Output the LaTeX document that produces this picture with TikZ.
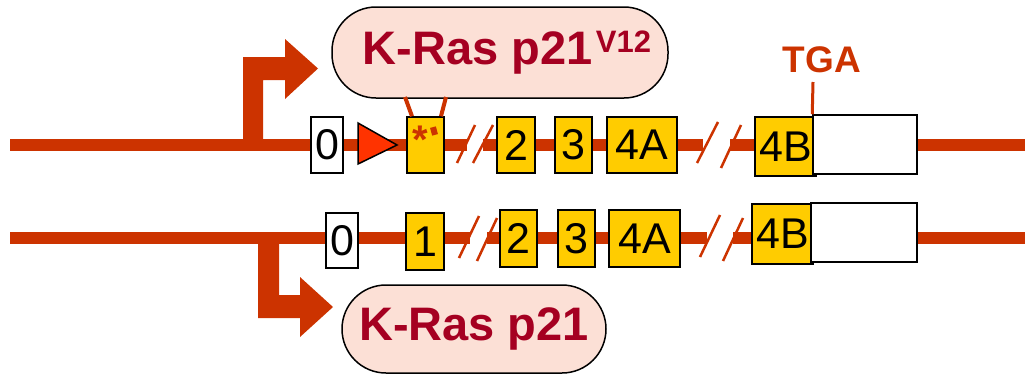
\documentclass[tikz,border=0pt]{standalone}
\usepackage{fontspec}
\setmainfont{Liberation Sans}
\definecolor{dna}{HTML}{CC3300}
\definecolor{exon}{HTML}{FFCC00}
\definecolor{bub}{HTML}{FCE0D6}
\definecolor{ptxt}{HTML}{A50021}
\definecolor{tri}{HTML}{FF3300}
\begin{document}
\begin{tikzpicture}[x=1pt,y=-1pt,
  dnaline/.style={draw=dna,line width=12pt},
  exonbox/.style={draw=black,fill=exon,line width=1.5pt,inner sep=0pt,font=\fontsize{43}{43}\selectfont},
  whitebox/.style={draw=black,fill=white,line width=1.5pt,inner sep=0pt,font=\fontsize{43}{43}\selectfont},
  slash/.style={draw=dna,line width=2.5pt},
  bubble/.style={draw=black,line width=1.5pt,fill=bub,rounded corners=44pt,inner sep=0pt,text=ptxt,font=\bfseries\fontsize{47}{47}\selectfont},
  promoter/.style={fill=dna},
  tick/.style={draw=dna,line width=3.5pt}]
\useasboundingbox (0,0) rectangle (1030,375);

% ---------- top row ----------
\coordinate (tL) at (10,145);
\coordinate (tg1a) at (467,145);
\coordinate (tg1b) at (483,145);
\coordinate (tg2a) at (703,145);
\coordinate (tg2b) at (730,145);
\coordinate (tR) at (1025,145);
\draw[dnaline] (tL) -- (tg1a);
\draw[dnaline] (tg1b) -- (tg2a);
\draw[dnaline] (tg2b) -- (tR);

% promoter arrow (top)
\coordinate (tp) at (243,145);
\fill[promoter] (tp) -- (243,57) -- (285,57) -- (285,39) -- (318,68.5) -- (285,99) -- (285,80) -- (263,80) -- (263,145) -- cycle;

\node[whitebox,minimum width=32pt,minimum height=56pt] (t0) at (327,145) {0};
\draw[fill=tri,line width=1.5pt] (358,123) -- (397,145) -- (358,164) -- cycle;
\node[exonbox,minimum width=37pt,minimum height=56pt] (t1) at (425.5,145) {};
\node[text=dna,inner sep=0pt,anchor=north,font=\bfseries\fontsize{40}{40}\selectfont] (ast) at (420,126) {*};
\fill[dna,rotate around={15:(434,131)}] (431,127) rectangle (437,135);
\node[exonbox,minimum width=38pt,minimum height=56pt] (t2) at (516,145) {2};
\node[exonbox,minimum width=37pt,minimum height=56pt] (t3) at (573.5,145) {3};
\node[exonbox,minimum width=70pt,minimum height=56pt] (t4a) at (642,145) {4A};
\node[exonbox,minimum width=61pt,minimum height=59pt] (t4b) at (785.5,146.5) {4B};
\node[whitebox,minimum width=104pt,minimum height=59pt] (tw) at (865,144.5) {};

\draw[slash] (457,163) -- (475,125);
\draw[slash] (473,163) -- (493,125);
\draw[slash] (697,163) -- (718,122);
\draw[slash] (721,168) -- (741,125);

% TGA
\node[text=dna,font=\bfseries\fontsize{37}{37}\selectfont] (tga) at (822,60) {TGA};
\coordinate (tgat) at (813,82);
\draw[tick,line width=3pt] (tgat) -- (tw.north west);

% top bubble
\node[bubble,minimum width=336pt,minimum height=91pt] (pv) at (500,52.5)
  {\hspace*{14pt}K-Ras p21\hspace{3pt}\raisebox{12pt}{\fontsize{31}{31}\selectfont V12}};
\coordinate (b1) at (405,97);
\coordinate (b2) at (446,97);
\draw[tick,line width=4pt] (b1) -- (t1.north west -| 412,0);
\draw[tick,line width=4pt] (b2) -- (t1.north east -| 441,0);

% ---------- bottom row ----------
\coordinate (bL) at (10,238);
\coordinate (bg1a) at (470,238);
\coordinate (bg1b) at (487,238);
\coordinate (bg2a) at (707,238);
\coordinate (bg2b) at (733,238);
\coordinate (bR) at (1025,238);
\draw[dnaline] (bL) -- (bg1a);
\draw[dnaline] (bg1b) -- (bg2a);
\draw[dnaline] (bg2b) -- (bR);

\coordinate (bp) at (258,238);
\fill[promoter] (bp) -- (258,318) -- (300,318) -- (300,337) -- (333,307) -- (300,277) -- (300,295) -- (279,295) -- (279,238) -- cycle;

\node[whitebox,minimum width=32pt,minimum height=55pt] (u0) at (342,240.5) {0};
\node[exonbox,minimum width=38pt,minimum height=57pt] (u1) at (425,241.5) {1};
\node[exonbox,minimum width=37pt,minimum height=57pt] (u2) at (518.5,238.5) {2};
\node[exonbox,minimum width=37pt,minimum height=57pt] (u3) at (576.5,238.5) {3};
\node[exonbox,minimum width=71pt,minimum height=57pt] (u4a) at (644.5,238.5) {4A};
\node[exonbox,minimum width=61pt,minimum height=60pt] (u4b) at (782.5,234) {4B};
\node[whitebox,minimum width=106pt,minimum height=59pt] (uw) at (864,232.5) {};

\draw[slash] (459,258) -- (479,216);
\draw[slash] (477,261) -- (497,218);
\draw[slash] (700,257) -- (720,215);
\draw[slash] (723,261) -- (743,218);

% bottom bubble
\node[bubble,minimum width=264pt,minimum height=88pt] (pw) at (474,329) {\raisebox{-3pt}{K-Ras p21}};
\end{tikzpicture}
\end{document}
